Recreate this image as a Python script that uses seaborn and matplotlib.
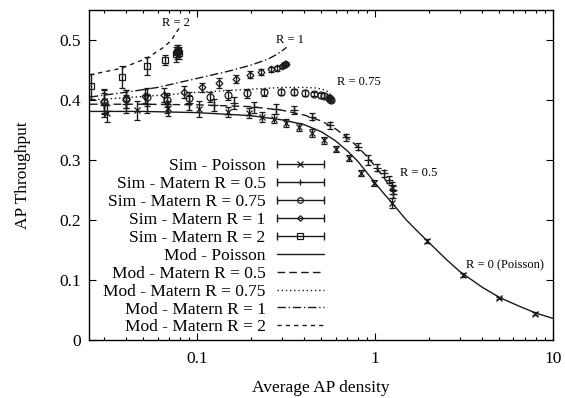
import seaborn as sns
import matplotlib.pyplot as plt
from matplotlib.lines import Line2D
from matplotlib.legend_handler import HandlerLine2D, HandlerTuple

# throughput vs AP density: simulations (with error bars) and model curves

# --- simulation points ---
sim_poisson_x = [0.031, 0.046, 0.069, 0.103, 0.15, 0.196, 0.232, 0.27, 0.316, 0.374, 0.443,
                 0.517, 0.604, 0.714, 0.834, 0.99, 1.25, 1.96, 3.14, 5.0, 7.9]
sim_poisson_y = [0.378, 0.383, 0.386, 0.385, 0.380, 0.378, 0.372, 0.369, 0.362, 0.355, 0.345,
                 0.333, 0.319, 0.303, 0.279, 0.262, 0.228, 0.165, 0.108, 0.070, 0.044]
sim_poisson_err = [0.014, 0.016, 0.012, 0.014, 0.008, 0.008, 0.008, 0.007, 0.007, 0.006, 0.006,
                   0.006, 0.005, 0.005, 0.005, 0.005, 0.008, 0.004, 0.003, 0.002, 0.002]

sim_r05_x = [0.030, 0.040, 0.052, 0.068, 0.09, 0.125, 0.161, 0.209, 0.278, 0.351, 0.443, 0.56,
             0.687, 0.80, 0.913, 1.03, 1.12, 1.2, 1.24, 1.26, 1.27]
sim_r05_y = [0.392, 0.393, 0.394, 0.393, 0.395, 0.392, 0.395, 0.388, 0.385, 0.383, 0.372, 0.358,
             0.338, 0.322, 0.300, 0.287, 0.278, 0.267, 0.258, 0.250, 0.243]
sim_r05_err = [0.02, 0.015, 0.015, 0.015, 0.012, 0.01, 0.01, 0.009, 0.008, 0.007, 0.006, 0.006,
               0.006, 0.006, 0.008, 0.006, 0.006, 0.006, 0.006, 0.006, 0.006]

sim_r075_x = [0.030, 0.040, 0.052, 0.068, 0.09, 0.118, 0.15, 0.19, 0.238, 0.296, 0.35, 0.405,
              0.455, 0.50, 0.52, 0.55, 0.56, 0.563]
sim_r075_y = [0.397, 0.402, 0.405, 0.400, 0.403, 0.405, 0.408, 0.411, 0.413, 0.413, 0.413, 0.412,
              0.410, 0.408, 0.407, 0.404, 0.401, 0.400]
sim_r075_err = [0.02, 0.015, 0.015, 0.012, 0.01, 0.009, 0.008, 0.007, 0.006, 0.005, 0.005, 0.005,
                0.004, 0.004, 0.004, 0.004, 0.004, 0.004]

sim_r1_x = [0.030, 0.040, 0.051, 0.065, 0.084, 0.107, 0.133, 0.166, 0.198, 0.229, 0.26, 0.28,
            0.30, 0.308, 0.312, 0.315]
sim_r1_y = [0.398, 0.402, 0.407, 0.408, 0.414, 0.421, 0.428, 0.435, 0.442, 0.447, 0.451, 0.453,
            0.456, 0.458, 0.460, 0.460]
sim_r1_err = [0.02, 0.015, 0.012, 0.012, 0.01, 0.008, 0.008, 0.007, 0.006, 0.005, 0.004, 0.004,
              0.003, 0.003, 0.003, 0.003]

sim_r2_x = [0.0254, 0.0379, 0.0524, 0.066, 0.0765, 0.0775, 0.0785, 0.079]
sim_r2_y = [0.423, 0.438, 0.457, 0.467, 0.476, 0.480, 0.482, 0.478]
sim_r2_err = [0.021, 0.018, 0.015, 0.008, 0.012, 0.012, 0.01, 0.01]

# --- model curves ---
mod_poisson_x = [0.025, 0.05, 0.1, 0.2, 0.3, 0.4, 0.5, 0.6, 0.7, 0.8, 0.9, 1.0, 1.1, 1.25, 1.5,
                 1.75, 2, 2.5, 3, 4, 5, 6.5, 8, 10]
mod_poisson_y = [0.381, 0.381, 0.379, 0.374, 0.367, 0.359, 0.347, 0.332, 0.315, 0.298, 0.279,
                 0.262, 0.247, 0.228, 0.200, 0.180, 0.163, 0.135, 0.114, 0.088, 0.071, 0.056,
                 0.045, 0.036]

mod_r05_x = [0.025, 0.05, 0.1, 0.2, 0.3, 0.4, 0.5, 0.6, 0.7, 0.8, 0.9, 1.0, 1.1, 1.2, 1.273]
mod_r05_y = [0.393, 0.393, 0.392, 0.389, 0.383, 0.375, 0.365, 0.352, 0.337, 0.322, 0.306,
             0.290, 0.274, 0.258, 0.245]

mod_r075_x = [0.025, 0.04, 0.07, 0.1, 0.2, 0.3, 0.4, 0.47, 0.52, 0.55, 0.566]
mod_r075_y = [0.400, 0.404, 0.409, 0.413, 0.418, 0.421, 0.421, 0.420, 0.417, 0.413, 0.407]

mod_r1_x = [0.025, 0.04, 0.06, 0.1, 0.15, 0.2, 0.25, 0.28, 0.3, 0.31, 0.318]
mod_r1_y = [0.405, 0.413, 0.421, 0.436, 0.448, 0.458, 0.468, 0.476, 0.482, 0.485, 0.488]

mod_r2_x = [0.025, 0.0377, 0.0525, 0.065, 0.072, 0.076, 0.0795]
mod_r2_y = [0.442, 0.453, 0.470, 0.488, 0.500, 0.512, 0.520]

sim_labels = ['Sim - Poisson', 'Sim - Matern R = 0.5', 'Sim - Matern R = 0.75',
              'Sim - Matern R = 1', 'Sim - Matern R = 2']
mod_labels = ['Mod - Poisson', 'Mod - Matern R = 0.5', 'Mod - Matern R = 0.75',
              'Mod - Matern R = 1', 'Mod - Matern R = 2']

sns.set_theme(style="ticks", rc={
    'axes.edgecolor': 'black', 'axes.linewidth': 1.0,
    'xtick.color': 'black', 'ytick.color': 'black',
    'text.color': 'black', 'axes.labelcolor': 'black',
})
plt.rcParams['font.family'] = ['Liberation Serif', 'DejaVu Serif']

fig = plt.figure(figsize=(5.65, 3.98), dpi=100)
ax = fig.add_axes([0.1575, 0.1457, 0.8212, 0.8291])

sims = [
    (sim_poisson_x, sim_poisson_y, sim_poisson_err, 'x', 'k'),
    (sim_r05_x, sim_r05_y, sim_r05_err, '+', 'k'),
    (sim_r075_x, sim_r075_y, sim_r075_err, 'o', 'none'),
    (sim_r1_x, sim_r1_y, sim_r1_err, 'D', 'none'),
    (sim_r2_x, sim_r2_y, sim_r2_err, 's', 'none'),
]
sim_ms = {'x': 5, '+': 6, 'o': 5, 'D': 3.5, 's': 5}
for x, y, e, m, fc in sims:
    ax.errorbar(x, y, yerr=e, fmt=m, color='k', mfc=fc, mec='k', ms=sim_ms[m],
                mew=0.9, elinewidth=1, capsize=2.5, capthick=1, ls='none')

mod_styles = ['-', (0, (5.5, 3)), (0, (1, 2)), (0, (6, 2, 1, 2)), (0, (3, 3))]
mods = [(mod_poisson_x, mod_poisson_y), (mod_r05_x, mod_r05_y), (mod_r075_x, mod_r075_y),
        (mod_r1_x, mod_r1_y), (mod_r2_x, mod_r2_y)]
for (x, y), st in zip(mods, mod_styles):
    sns.lineplot(x=x, y=y, ax=ax, color='k', lw=1, linestyle=st, sort=False,
                 estimator=None, legend=False)

ax.set_xscale('log')
ax.set_xlim(0.0247, 10)
ax.set_ylim(0, 0.55)
ax.set_yticks([0, 0.1, 0.2, 0.3, 0.4, 0.5])
ax.set_yticklabels(['0', '0.1', '0.2', '0.3', '0.4', '0.5'])
ax.set_xticks([0.1, 1, 10])
ax.set_xticklabels(['0.1', '1', '10'])
ax.tick_params(which='both', direction='in', top=True, right=True, labelsize=12.5)
ax.tick_params(which='major', length=5, width=0.8, pad=6)
ax.tick_params(axis='x', which='major', pad=8)
ax.tick_params(which='minor', length=2.5, width=0.8)
ax.set_xlabel('Average AP density', fontsize=12.5, labelpad=9)
ax.set_ylabel('AP Throughput', fontsize=12.5, labelpad=20)

ann = [('R = 2', 0.0762, 0.528), ('R = 1', 0.333, 0.500), ('R = 0.75', 0.813, 0.430),
       ('R = 0.5', 1.77, 0.278), ('R = 0 (Poisson)', 5.37, 0.125)]
for t, x, y in ann:
    ax.text(x, y, t, fontsize=9, ha='center', va='center')

# gnuplot-like legend: label on the left, sample on the right
handles = []
hmap = {}
for x, y, e, m, fc in sims:
    caps = Line2D([], [], color='k', lw=1, marker='|', ms=6, mew=1)
    mark = Line2D([], [], color='k', ls='none', marker=m, mfc=fc, mec='k',
                  ms=sim_ms[m] * 0.8, mew=0.9)
    hmap[caps] = HandlerLine2D(numpoints=2, marker_pad=0)
    hmap[mark] = HandlerLine2D(numpoints=1)
    handles.append((caps, mark))
for st in mod_styles:
    handles.append(Line2D([], [], color='k', lw=1, linestyle=st))
hmap[tuple] = HandlerTuple(ndivide=1, pad=0)

leg = ax.legend(handles, sim_labels + mod_labels, handler_map=hmap, markerfirst=False,
                frameon=False, loc='lower right', bbox_to_anchor=(0.506, 0.014),
                borderaxespad=0, borderpad=0, fontsize=12.5, labelspacing=0.1,
                handlelength=2.7, handletextpad=0.65)

fig.savefig('out.png', dpi=100)
